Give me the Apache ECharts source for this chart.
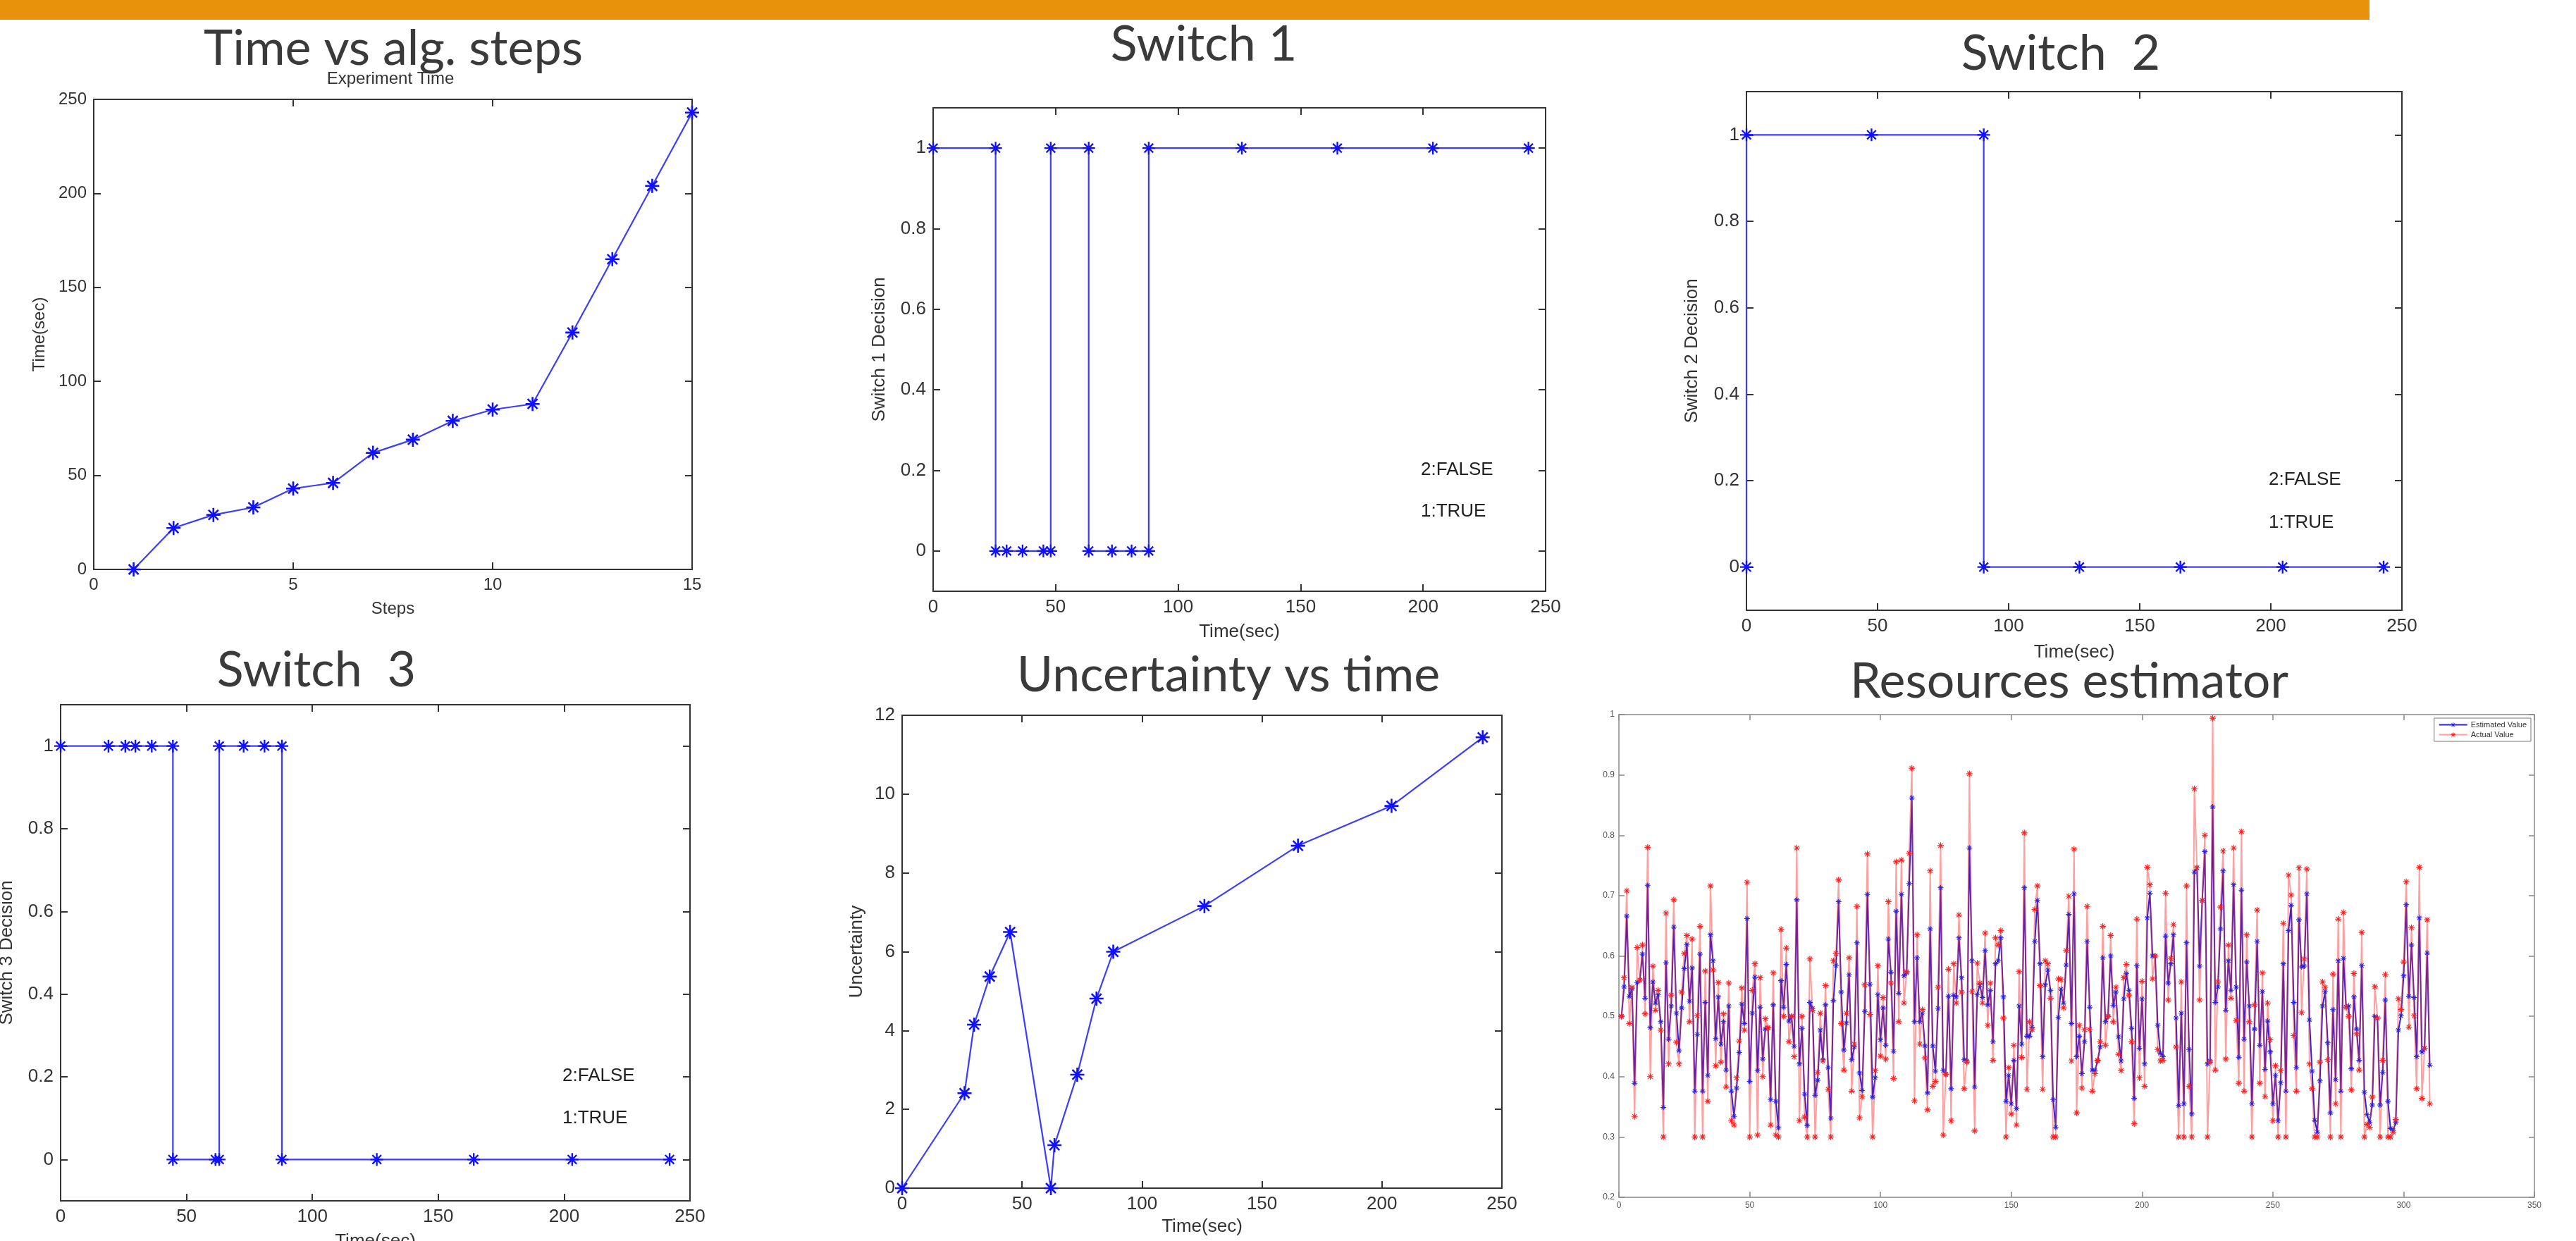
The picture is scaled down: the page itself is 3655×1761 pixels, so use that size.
<!DOCTYPE html>
<html>
<head>
<meta charset="utf-8">
<script src="https://cdn.jsdelivr.net/npm/echarts@6/dist/echarts.min.js"></script>
<style>
html,body{margin:0;padding:0;background:#fff;}
#chart{width:3655px;height:1761px;}
</style>
</head>
<body>
<div id="chart"></div>
<script>
// ---------------- DATA ----------------
const steps = [1,2,3,4,5,6,7,8,9,10,11,12,13,14,15];
const stepTimes = [0,22,29,33,43,46,62,69,79,85,88,126,165,204,243];

const switch1Time = [0,25.5,25.5,30,36.5,45,48,48,63.5,63.5,73,81,88,88,126,165,204,243];
const switch1Val  = [1,1,0,0,0,0,0,1,1,0,0,0,0,1,1,1,1,1];

const switch2Time = [0,0,47.7,90.5,90.5,127,165.5,204.5,243];
const switch2Val  = [0,1,1,1,0,0,0,0,0];

const switch3Time = [0,19,25.7,29.7,36.2,44.6,44.6,61.5,63,63,72.7,81,87.9,87.9,125.6,164.1,203.2,241.9];
const switch3Val  = [1,1,1,1,1,1,0,0,0,1,1,1,1,0,0,0,0,0];

const uncTime = [0,26,30,36.5,45,62,63.5,73,81,88,126,165,204,242];
const uncVal  = [0,2.41,4.15,5.37,6.5,0,1.09,2.88,4.81,6.0,7.16,8.69,9.7,11.44];

const actualValues = [
 0.5,0.564,0.708,0.488,0.548,0.334,0.614,0.56,0.618,0.504,0.78,0.4,0.583,0.51,0.543,0.477,0.3,0.671,0.421,0.535,0.693,0.457,0.421,0.54,0.604,0.634,0.491,0.628,0.3,0.501,0.649,0.3,0.575,0.359,0.716,0.577,0.418,0.556,0.424,0.504,0.383,0.555,0.327,0.32,0.398,0.459,0.547,0.477,0.722,0.3,0.543,
 0.587,0.303,0.564,0.4,0.496,0.481,0.32,0.572,0.303,0.3,0.644,0.5,0.613,0.458,0.5,0.433,0.779,0.327,0.5,0.333,0.3,0.595,0.51,0.3,0.407,0.505,0.426,0.551,0.379,0.3,0.592,0.604,0.726,0.488,0.411,0.505,0.597,0.376,0.454,0.682,0.332,0.367,0.552,0.769,0.503,0.3,0.41,0.584,0.434,0.531,0.429,0.69,0.555,
 0.397,0.756,0.491,0.759,0.522,0.574,0.77,0.911,0.36,0.635,0.454,0.511,0.431,0.345,0.741,0.384,0.392,0.548,0.783,0.303,0.404,0.578,0.327,0.587,0.522,0.668,0.54,0.38,0.424,0.902,0.541,0.31,0.588,0.555,0.522,0.638,0.485,0.555,0.427,0.63,0.618,0.642,0.497,0.3,0.415,0.338,0.452,0.32,0.574,0.432,0.804,0.379,
 0.491,0.478,0.677,0.716,0.551,0.379,0.592,0.587,0.53,0.3,0.3,0.562,0.561,0.514,0.609,0.699,0.426,0.777,0.34,0.485,0.381,0.478,0.682,0.478,0.376,0.405,0.427,0.458,0.649,0.452,0.5,0.634,0.491,0.548,0.437,0.41,0.564,0.586,0.535,0.458,0.322,0.661,0.398,0.558,0.384,0.747,0.718,0.562,0.6,0.445,0.426,0.427,0.704,
 0.527,0.596,0.652,0.449,0.3,0.557,0.3,0.716,0.384,0.3,0.877,0.746,0.527,0.692,0.8,0.3,0.424,0.994,0.411,0.557,0.681,0.774,0.429,0.618,0.53,0.779,0.493,0.389,0.806,0.376,0.635,0.491,0.3,0.519,0.676,0.389,0.572,0.367,0.522,0.461,0.327,0.418,0.3,0.41,0.654,0.3,0.734,0.701,0.468,0.376,0.746,0.506,
 0.595,0.744,0.421,0.38,0.3,0.3,0.424,0.557,0.548,0.428,0.3,0.57,0.355,0.661,0.3,0.672,0.515,0.5,0.378,0.571,0.471,0.411,0.639,0.3,0.321,0.316,0.366,0.549,0.497,0.3,0.427,0.569,0.3,0.3,0.308,0.329,0.529,0.511,0.59,0.723,0.482,0.647,0.501,0.38,0.747,0.364,0.447,0.66,0.355
];
const estimatedValues = [
 0.5,0.549,0.666,0.533,0.546,0.389,0.556,0.56,0.603,0.53,0.717,0.481,0.557,0.522,0.536,0.491,0.349,0.589,0.462,0.517,0.648,0.505,0.443,0.514,0.579,0.619,0.525,0.58,0.376,0.47,0.603,0.376,0.523,0.402,0.635,0.592,0.463,0.532,0.454,0.491,0.411,0.517,0.376,0.334,0.381,0.44,0.52,0.488,0.662,0.392,0.505,
 0.565,0.41,0.515,0.429,0.479,0.481,0.362,0.519,0.359,0.315,0.559,0.515,0.586,0.492,0.5,0.45,0.693,0.421,0.48,0.371,0.319,0.523,0.513,0.369,0.394,0.477,0.428,0.519,0.415,0.331,0.526,0.584,0.69,0.54,0.444,0.489,0.569,0.428,0.449,0.622,0.406,0.377,0.508,0.702,0.553,0.366,0.398,0.536,0.461,0.514,0.452,0.628,0.573,
 0.442,0.674,0.538,0.702,0.567,0.572,0.72,0.862,0.491,0.597,0.491,0.505,0.451,0.373,0.645,0.451,0.409,0.513,0.713,0.41,0.404,0.533,0.38,0.535,0.532,0.63,0.564,0.428,0.426,0.779,0.592,0.383,0.536,0.552,0.531,0.609,0.519,0.543,0.458,0.587,0.592,0.63,0.532,0.359,0.402,0.355,0.427,0.347,0.517,0.454,0.713,0.467,
 0.467,0.482,0.624,0.692,0.587,0.433,0.552,0.577,0.543,0.362,0.316,0.498,0.545,0.522,0.585,0.669,0.488,0.703,0.433,0.467,0.405,0.458,0.624,0.515,0.411,0.41,0.426,0.449,0.597,0.491,0.5,0.6,0.518,0.54,0.466,0.426,0.529,0.571,0.543,0.48,0.364,0.584,0.447,0.529,0.421,0.663,0.704,0.6,0.6,0.485,0.439,0.433,0.633,
 0.555,0.587,0.635,0.497,0.352,0.505,0.355,0.622,0.445,0.338,0.739,0.746,0.583,0.692,0.773,0.421,0.426,0.847,0.523,0.549,0.645,0.741,0.51,0.592,0.543,0.718,0.548,0.432,0.709,0.462,0.59,0.517,0.355,0.479,0.624,0.452,0.541,0.412,0.492,0.441,0.355,0.402,0.327,0.39,0.587,0.376,0.642,0.684,0.523,0.415,0.66,0.582,
 0.583,0.703,0.494,0.409,0.328,0.308,0.393,0.517,0.541,0.456,0.34,0.511,0.395,0.592,0.376,0.596,0.515,0.517,0.413,0.532,0.479,0.427,0.584,0.374,0.337,0.324,0.353,0.5,0.497,0.353,0.407,0.527,0.359,0.314,0.311,0.324,0.477,0.501,0.567,0.685,0.533,0.618,0.531,0.433,0.663,0.441,0.447,0.605,0.419
];

const switchTicks = [0,0.2,0.4,0.6,0.8,1];

// ---------------- STYLE / LAYOUT ----------------
const STAR = 'path://M-10,-1.3L10,-1.3L10,1.3L-10,1.3Z M-1.3,-10L1.3,-10L1.3,10L-1.3,10Z M-7.9,-6.1L-6.1,-7.9L7.9,6.1L6.1,7.9Z M6.1,-7.9L7.9,-6.1L-6.1,7.9L-7.9,6.1Z';
const SANS = '"Liberation Sans", Arial, sans-serif';
const NARROW = '"Liberation Sans Narrow", "Liberation Sans", Arial, sans-serif';
const TITLE_FONT = 'Lato, "Open Sans", sans-serif';

const grids = [
  {left:133,  top:141,  width:849,  height:667},  // time vs steps
  {left:1324, top:153,  width:869,  height:686},  // switch 1
  {left:2478, top:130,  width:930,  height:736},  // switch 2
  {left:86,   top:1000, width:893,  height:704},  // switch 3
  {left:1280, top:1015, width:851,  height:671},  // uncertainty
  {left:2297, top:1014, width:1299, height:685}   // resources
];

function axisPair(kind, g, o) {
  const mainPos = kind === 'x' ? 'bottom' : 'left';
  const mirrorPos = kind === 'x' ? 'top' : 'right';
  return [mainPos, mirrorPos].map(pos => {
    const main = pos === mainPos;
    const ax = {
      type:'value', gridIndex:g, position:pos, min:o.min, max:o.max,
      axisLine:{show:true, onZero:false, lineStyle:{color:o.line, width:o.lw}},
      axisTick:{show:true, inside:true, length:o.tickLen, lineStyle:{color:o.line, width:o.lw}},
      axisLabel:{show:main, margin:o.margin, color:o.label, fontSize:o.fs, fontFamily:o.font},
      splitLine:{show:false}
    };
    if (o.interval !== undefined) ax.interval = o.interval;
    if (o.custom) { ax.axisTick.customValues = o.custom; ax.axisLabel.customValues = o.custom; }
    if (main && o.name) {
      ax.name = o.name; ax.nameLocation = 'middle'; ax.nameGap = o.nameGap;
      ax.nameTextStyle = {color:o.label, fontSize:o.nfs || o.fs, fontFamily:o.font};
    }
    return ax;
  });
}

const base = {line:'#333', lw:2, tickLen:10, margin:10, label:'#333', fs:26, font:SANS};
const xAxes = [], yAxes = [];
function addAxes(g, xo, yo) {
  xAxes.push(...axisPair('x', g, Object.assign({}, base, xo)));
  yAxes.push(...axisPair('y', g, Object.assign({}, base, yo)));
}
addAxes(0, {min:0, max:15, interval:5, fs:24, name:'Steps', nameGap:44},
           {min:0, max:250, interval:50, fs:24, name:'Time(sec)', nameGap:65});
addAxes(1, {min:0, max:250, interval:50, name:'Time(sec)', nameGap:45},
           {min:-0.1, max:1.1, custom:switchTicks, name:'Switch 1 Decision', nameGap:63});
addAxes(2, {min:0, max:250, interval:50, font:NARROW, name:'Time(sec)', nameGap:47},
           {min:-0.1, max:1.1, custom:switchTicks, font:NARROW, name:'Switch 2 Decision', nameGap:64});
addAxes(3, {min:0, max:250, interval:50, font:NARROW, name:'Time(sec)', nameGap:45},
           {min:-0.1, max:1.1, custom:switchTicks, font:NARROW, name:'Switch 3 Decision', nameGap:63});
addAxes(4, {min:0, max:250, interval:50, name:'Time(sec)', nameGap:42},
           {min:0, max:12, interval:2, name:'Uncertainty', nameGap:51});
addAxes(5, {min:0, max:350, interval:50, line:'#888', lw:1.5, tickLen:8, margin:6, label:'#555', fs:12},
           {min:0.2, max:1, interval:0.1, line:'#888', lw:1.5, tickLen:8, margin:6, label:'#555', fs:12});

function starSeries(g, xs, ys, size) {
  return {
    type:'line', xAxisIndex:2*g, yAxisIndex:2*g,
    data: xs.map((x,i)=>[x, ys[i]]),
    symbol:STAR, symbolSize:size, symbolKeepAspect:true,
    lineStyle:{color:'#3c3cff', width:2.2},
    itemStyle:{color:'#1010ff'},
    animation:false, silent:true
  };
}

const idx = actualValues.map((_,i)=>i+1);

const series = [
  starSeries(0, steps, stepTimes, 20),
  starSeries(1, switch1Time, switch1Val, 18),
  starSeries(2, switch2Time, switch2Val, 18),
  starSeries(3, switch3Time, switch3Val, 18),
  starSeries(4, uncTime, uncVal, 20),
  {
    name:'Estimated Value', type:'line', xAxisIndex:10, yAxisIndex:10,
    data: idx.map((x,i)=>[x, estimatedValues[i]]),
    symbol:STAR, symbolSize:8, symbolKeepAspect:true,
    lineStyle:{color:'#2a22e0', width:2},
    itemStyle:{color:'#2a22e0'}, animation:false, silent:true
  },
  {
    name:'Actual Value', type:'line', xAxisIndex:10, yAxisIndex:10,
    data: idx.map((x,i)=>[x, actualValues[i]]),
    symbol:STAR, symbolSize:9, symbolKeepAspect:true,
    lineStyle:{color:'#ff2a2a', width:2, opacity:0.45},
    itemStyle:{color:'#ff2020'}, animation:false, silent:true
  }
];

function title(text, x, y) {
  return {type:'text', x:x, y:y, silent:true,
    style:{text:text, fontSize:70, fontFamily:TITLE_FONT, fill:'#3a3a3a', align:'center', verticalAlign:'middle'}};
}
function note(text, x, y, font) {
  return {type:'text', x:x, y:y, silent:true,
    style:{text:text, fontSize:26, fontFamily:font || SANS, fill:'#222', align:'left', verticalAlign:'middle'}};
}

const graphic = [
  {type:'rect', shape:{x:0, y:0, width:3362, height:28}, style:{fill:'#E8910B'}, silent:true},
  title('Time vs alg. steps', 558, 69),
  title('Switch 1', 1708, 63),
  title('Switch  2', 2924, 76),
  title('Switch  3', 449, 951),
  title('Uncertainty vs time', 1743, 958),
  title('Resources estimator', 2936, 967),
  {type:'text', x:554, y:112, silent:true,
    style:{text:'Experiment Time', fontSize:24, fontFamily:SANS, fill:'#333', align:'center', verticalAlign:'middle'}},
  note('2:FALSE', 2016, 667), note('1:TRUE', 2016, 726),
  note('2:FALSE', 3219, 681, NARROW), note('1:TRUE', 3219, 742, NARROW),
  note('2:FALSE', 798, 1527, NARROW), note('1:TRUE', 798, 1587, NARROW)
];

const option = {
  backgroundColor:'#ffffff',
  animation:false,
  grid: grids.map(g => Object.assign({containLabel:false, outerBoundsMode:'none'}, g)),
  xAxis: xAxes,
  yAxis: yAxes,
  legend: {
    data:['Estimated Value','Actual Value'], orient:'vertical',
    right:64, top:1019, padding:[4,6], itemGap:3, itemWidth:40, itemHeight:8,
    borderColor:'#777', borderWidth:1, backgroundColor:'#fff',
    textStyle:{fontSize:11, color:'#333', fontFamily:SANS}
  },
  series: series,
  graphic: graphic
};

const chart = echarts.init(document.getElementById('chart'), null, {renderer:'canvas'});
chart.setOption(option);
</script>
</body>
</html>
